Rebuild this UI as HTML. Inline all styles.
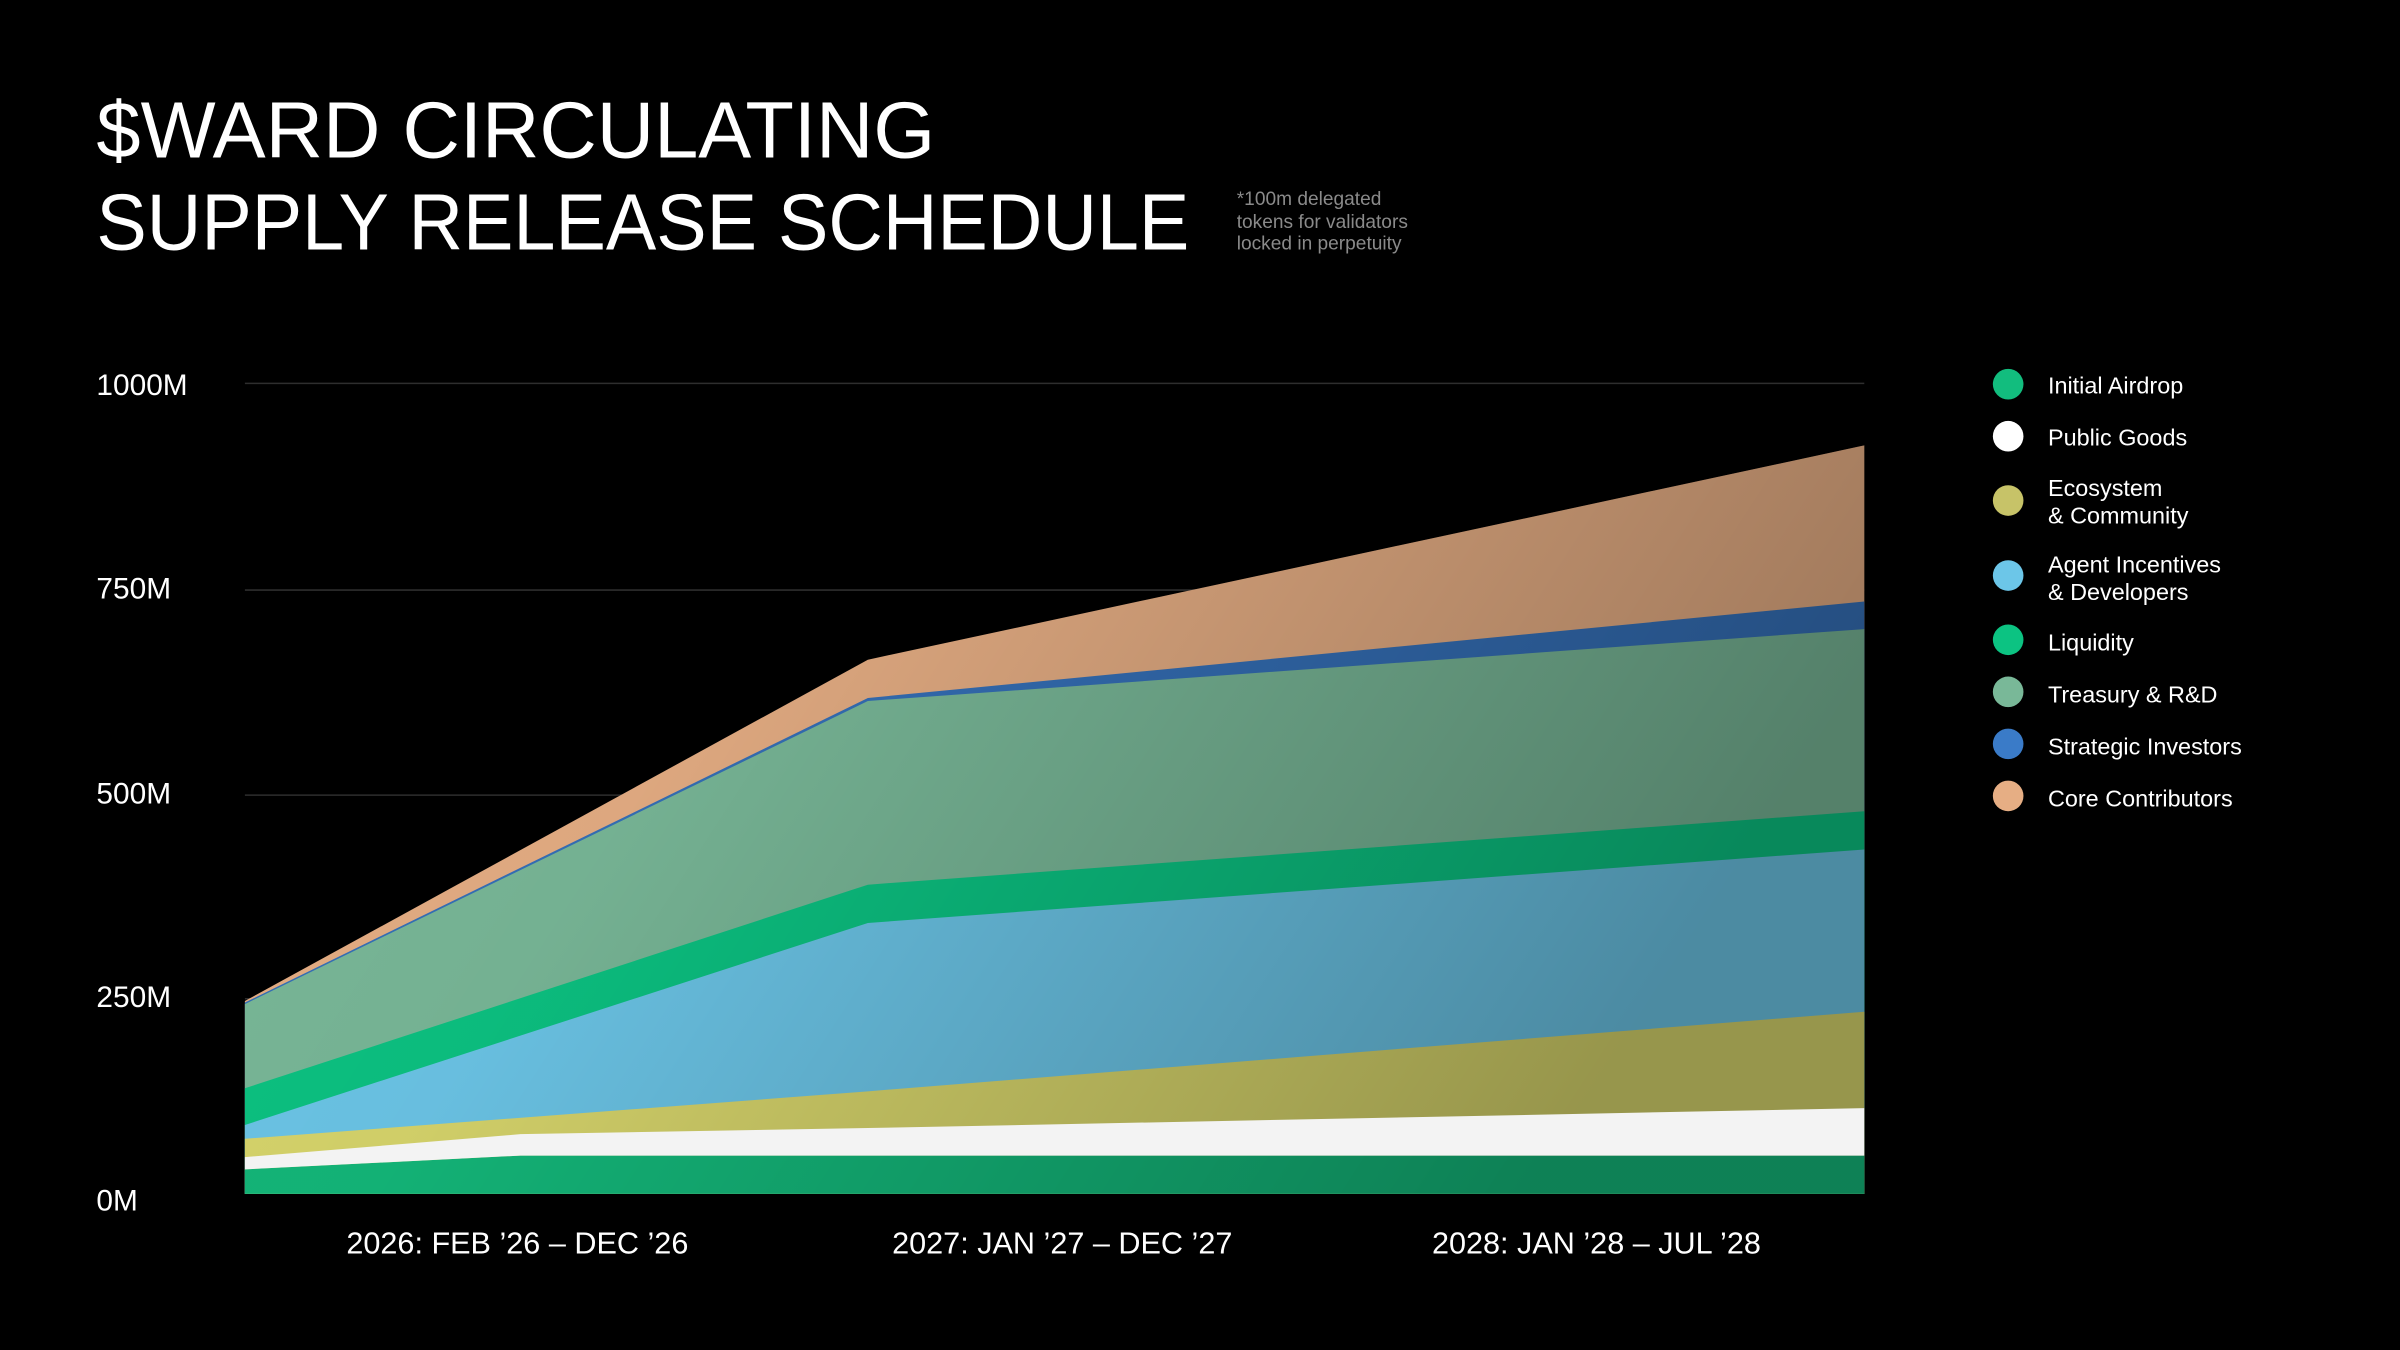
<!DOCTYPE html>
<html><head><meta charset="utf-8"><style>html,body{margin:0;padding:0;background:#000;}svg{display:block}</style></head>
<body>
<svg width="2400" height="1350" viewBox="0 0 1568 882" xmlns="http://www.w3.org/2000/svg" font-family="Liberation Sans, sans-serif">
<defs>
<linearGradient id="shade" x1="0" y1="0" x2="1" y2="0.3">
<stop offset="0" stop-color="#000" stop-opacity="0"/>
<stop offset="0.35" stop-color="#000" stop-opacity="0.04"/>
<stop offset="1" stop-color="#000" stop-opacity="0.3"/>
</linearGradient>
</defs>
<rect width="1568" height="882" fill="#000"/>
<g stroke="#2e2e2e" stroke-width="1">
<line x1="160" y1="250.5" x2="1218" y2="250.5"/>
<line x1="160" y1="385.5" x2="1218" y2="385.5"/>
<line x1="160" y1="519.5" x2="1218" y2="519.5"/>
<line x1="160" y1="652.5" x2="1218" y2="652.5"/>
</g>
<g>
<polygon fill="#e6ae84" points="160,780 160,654 567,431 1218,291 1218,780"/>
<polygon fill="#3570b8" points="160,780 160,655 567,456 1218,393 1218,780"/>
<polygon fill="#79b898" points="160,780 160,656 567,458 1218,411 1218,780"/>
<polygon fill="#0cc382" points="160,780 160,711 567,578 1218,530 1218,780"/>
<polygon fill="#6cc6e8" points="160,780 160,735 567,603 1218,555 1218,780"/>
<polygon fill="#d8d66c" points="160,780 160,744 567,713 1218,661 1218,780"/>
<polygon fill="#14b87a" points="160,780 160,764 340,755 1218,755 1218,780"/>
<polygon fill="url(#shade)" points="160,780 160,654 567,431 1218,291 1218,780"/>
<polygon fill="#f3f3f3" points="160,764 160,756 340,741 567,737 1218,724 1218,755 340,755"/>
</g>
<g fill="#fff">
<text x="63" y="103" font-size="52" textLength="548" lengthAdjust="spacingAndGlyphs">$WARD CIRCULATING</text>
<text x="63" y="163" font-size="52" textLength="714" lengthAdjust="spacingAndGlyphs">SUPPLY RELEASE SCHEDULE</text>
</g>
<g fill="#8a8a8a" font-size="12.5">
<text x="808" y="134">*100m delegated</text>
<text x="808" y="149">tokens for validators</text>
<text x="808" y="163">locked in perpetuity</text>
</g>
<g fill="#fff" font-size="19.5">
<text x="63" y="258">1000M</text>
<text x="63" y="391">750M</text>
<text x="63" y="525">500M</text>
<text x="63" y="658">250M</text>
<text x="63" y="791">0M</text>
</g>
<g fill="#fff" font-size="20" text-anchor="middle">
<text x="338" y="819">2026: FEB ’26 – DEC ’26</text>
<text x="694" y="819">2027: JAN ’27 – DEC ’27</text>
<text x="1043" y="819">2028: JAN ’28 – JUL ’28</text>
</g>
<g>
<circle cx="1312" cy="251" r="10" fill="#12bd7e"/>
<circle cx="1312" cy="285" r="10" fill="#fff"/>
<circle cx="1312" cy="327" r="10" fill="#c7c368"/>
<circle cx="1312" cy="376" r="10" fill="#6cc6e8"/>
<circle cx="1312" cy="418" r="10" fill="#0cc382"/>
<circle cx="1312" cy="452" r="10" fill="#79b898"/>
<circle cx="1312" cy="486" r="10" fill="#3a7bc8"/>
<circle cx="1312" cy="520" r="10" fill="#e6ae84"/>
</g>
<g fill="#fff" font-size="15.3">
<text x="1338" y="257">Initial Airdrop</text>
<text x="1338" y="291">Public Goods</text>
<text x="1338" y="324">Ecosystem</text>
<text x="1338" y="342">&amp; Community</text>
<text x="1338" y="374">Agent Incentives</text>
<text x="1338" y="392">&amp; Developers</text>
<text x="1338" y="425">Liquidity</text>
<text x="1338" y="459">Treasury &amp; R&amp;D</text>
<text x="1338" y="493">Strategic Investors</text>
<text x="1338" y="527">Core Contributors</text>
</g>
</svg>
</body></html>
